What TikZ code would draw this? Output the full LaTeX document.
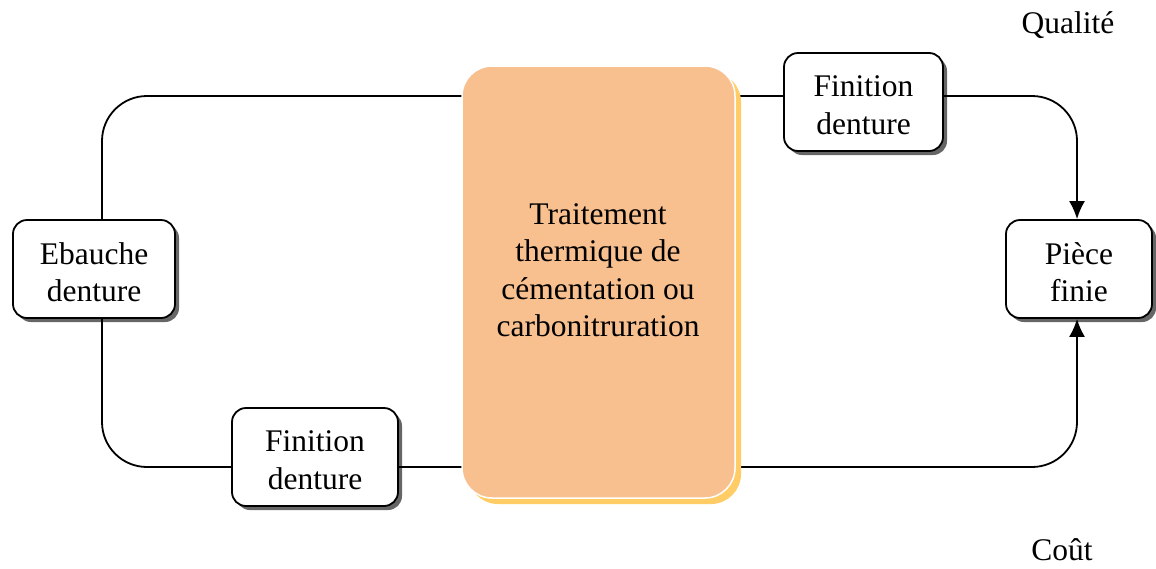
\documentclass[tikz,border=0pt]{standalone}
\usepackage{fontspec}
\setmainfont{Liberation Serif}
\usetikzlibrary{shadows,arrows.meta}
\definecolor{orangefill}{HTML}{F8BF8F}
\definecolor{yellowshadow}{HTML}{FFCC66}
\tikzset{
  stepbox/.style={draw=black, line width=1.8pt, fill=white, rounded corners=14pt,
    align=center, inner sep=0pt,
    drop shadow={shadow xshift=4pt, shadow yshift=-4pt, fill=black!60, opacity=1},
    font=\fontsize{31.5}{37.5}\selectfont},
  conn/.style={draw=black, line width=1.8pt, rounded corners=45pt},
  arr/.style={-{Latex[length=18pt,width=16pt]}},
  lbl/.style={font=\fontsize{31.5}{37.5}\selectfont, inner sep=0pt}
}
\begin{document}
\begin{tikzpicture}[x=1pt,y=-1pt]
\useasboundingbox (0,0) rectangle (1156,568);
% boxes
\node[stepbox, minimum width=162pt, minimum height=98pt] (eb) at (94,269) {};
\node[lbl, align=center] (ebt) at (94,272) {Ebauche\\denture};
\node[stepbox, minimum width=166pt, minimum height=98pt] (fb) at (315,457) {};
\node[lbl, align=center] (fbt) at (315,460) {Finition\\denture};
\node[stepbox, minimum width=159pt, minimum height=98pt] (ft) at (863.5,102) {};
\node[lbl, align=center] (ftt) at (863.5,105) {Finition\\denture};
\node[stepbox, minimum width=146pt, minimum height=98pt] (pf) at (1079,269) {};
\node[lbl, align=center] (pft) at (1079,272) {Pièce\\finie};
% guide coordinates
\coordinate (L) at (102,0);
\coordinate (R) at (1077,0);
\coordinate (T) at (0,96);
\coordinate (B) at (0,467);
% connectors
\draw[conn] (eb.north -| L) |- (ft.west |- T);
\draw[conn] (eb.south -| L) |- (fb.west |- B);
\draw[conn] (fb.east |- B) -- (pf.west |- B);
\draw[conn, arr] (ft.east |- T) -| (pf.north -| R);
\draw[conn, arr] (fb.east |- B) -| (pf.south -| R);
% central box
\fill[yellowshadow, rounded corners=30pt] (468,72) rectangle (741,504);
\node[draw=white, line width=1.5pt, fill=orangefill, rounded corners=30pt,
  minimum width=273pt, minimum height=432pt, inner sep=0pt] (tt) at (598.5,282) {};
\node[lbl, align=center] (ttt) at (598,270)
  {Traitement\\thermique de\\cémentation ou\\carbonitruration};
% labels
\node[lbl] (q) at (1068,25) {Qualité};
\node[lbl] (c) at (1062,550) {Coût};
\end{tikzpicture}
\end{document}
